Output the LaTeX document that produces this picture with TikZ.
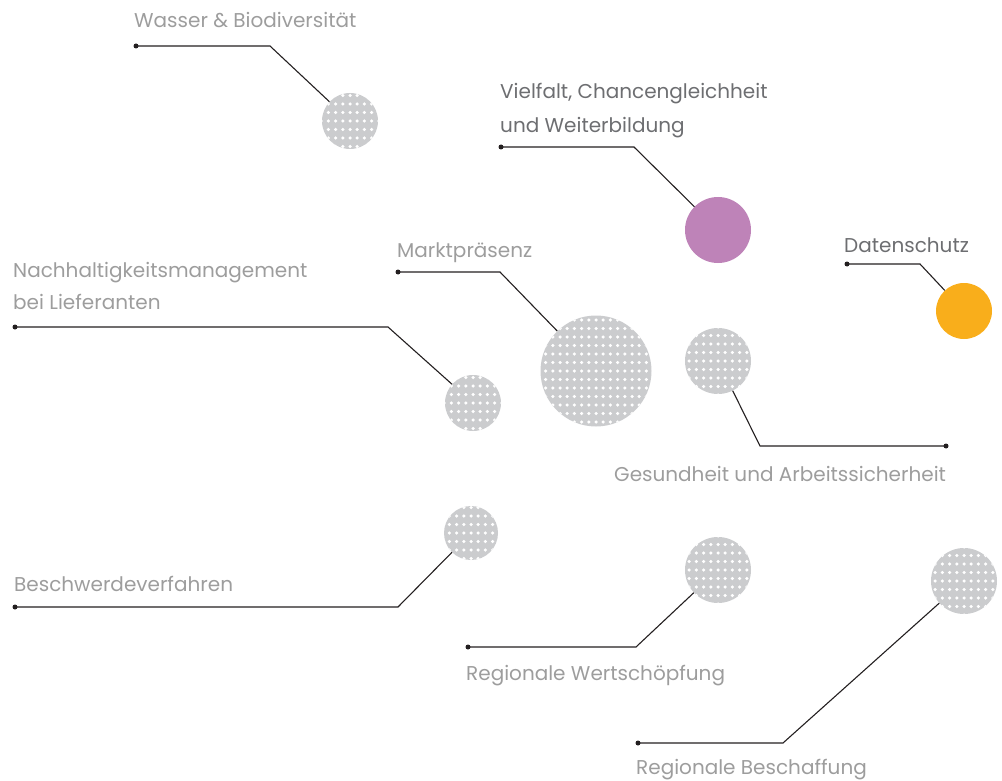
\documentclass[tikz,border=0pt]{standalone}
\usepackage{fontspec}
\setmainfont{Poppins}
\definecolor{dotgray}{HTML}{CBCCCE}
\definecolor{txtgray}{HTML}{9D9D9D}
\definecolor{txtdark}{HTML}{6D6E71}
\definecolor{lila}{HTML}{BE83B8}
\definecolor{gelb}{HTML}{F9AE1B}
\definecolor{linie}{HTML}{231F20}
\tikzset{
  lbl/.style={anchor=base west, inner sep=0pt, text=txtgray, font=\fontsize{20}{24}\selectfont},
  lbldark/.style={lbl, text=txtdark},
  conn/.style={draw=linie, line width=1.1pt},
  enddot/.style={circle, fill=linie, inner sep=0pt, minimum size=5pt},
  solidcirc/.style={circle, inner sep=0pt, minimum size=#1},
  patcirc/.style={circle, inner sep=0pt, minimum size=#1, fill=dotgray,
    path picture={
      \foreach \i in {-9,...,9}{\foreach \j in {-8,...,8}{
        \fill[white] ([shift={(\i*7.2,\j*8.5)}]path picture bounding box.center) circle (1.75);}}}},
}
\begin{document}
\begin{tikzpicture}[x=1pt,y=-1pt]
\useasboundingbox (0,0) rectangle (1002,781);
% circles
\node[patcirc=56] (c1) at (350,121) {};
\node[solidcirc=66, fill=lila] (c2) at (718,230) {};
\node[solidcirc=56, fill=gelb] (c3) at (964,311) {};
\node[patcirc=111] (c4) at (596,371) {};
\node[patcirc=56] (c5) at (473,403) {};
\node[patcirc=66] (c6) at (718,361) {};
\node[patcirc=54] (c7) at (471,533) {};
\node[patcirc=66] (c8) at (718,570) {};
\node[patcirc=66] (c9) at (964,581) {};
% labels
\node[lbl] (t1) at (134,28) {Wasser \& Biodiversität};
\node[lbldark] (t2a) at (500,99) {Vielfalt, Chancengleichheit};
\node[lbldark] (t2b) at (500,133) {und Weiterbildung};
\node[lbldark] (t3) at (844,252) {Datenschutz};
\node[lbl] (t4) at (397,258) {Marktpräsenz};
\node[lbl] (t5a) at (13,277) {Nachhaltigkeitsmanagement};
\node[lbl] (t5b) at (13,309) {bei Lieferanten};
\node[lbl] (t6) at (614,481) {Gesundheit und Arbeitssicherheit};
\node[lbl] (t7) at (14,591) {Beschwerdeverfahren};
\node[lbl] (t8) at (466,680) {Regionale Wertschöpfung};
\node[lbl] (t9) at (636,774) {Regionale Beschaffung};
% end dots and knees
\node[enddot] (e1) at (136,46) {};   \coordinate (k1) at (270,46);
\node[enddot] (e2) at (501,147) {};  \coordinate (k2) at (634,147);
\node[enddot] (e3) at (847,264) {};  \coordinate (k3) at (920,264);
\node[enddot] (e4) at (398,272) {};  \coordinate (k4) at (500,272);
\node[enddot] (e5) at (15,327) {};   \coordinate (k5) at (388,327);
\node[enddot] (e6) at (946,446) {};  \coordinate (k6) at (760,446);
\node[enddot] (e7) at (15,607) {};   \coordinate (k7) at (398,607);
\node[enddot] (e8) at (468,647) {};  \coordinate (k8) at (636,647);
\node[enddot] (e9) at (638,743) {};  \coordinate (k9) at (783,743);
% connectors
\draw[conn] (e1.center) -- (k1) -- (c1);
\draw[conn] (e2.center) -- (k2) -- (c2);
\draw[conn] (e3.center) -- (k3) -- (c3);
\draw[conn] (e4.center) -- (k4) -- (c4);
\draw[conn] (e5.center) -- (k5) -- (c5);
\draw[conn] (e6.center) -- (k6) -- (c6);
\draw[conn] (e7.center) -- (k7) -- (c7);
\draw[conn] (e8.center) -- (k8) -- (c8);
\draw[conn] (e9.center) -- (k9) -- (c9);
\end{tikzpicture}
\end{document}
